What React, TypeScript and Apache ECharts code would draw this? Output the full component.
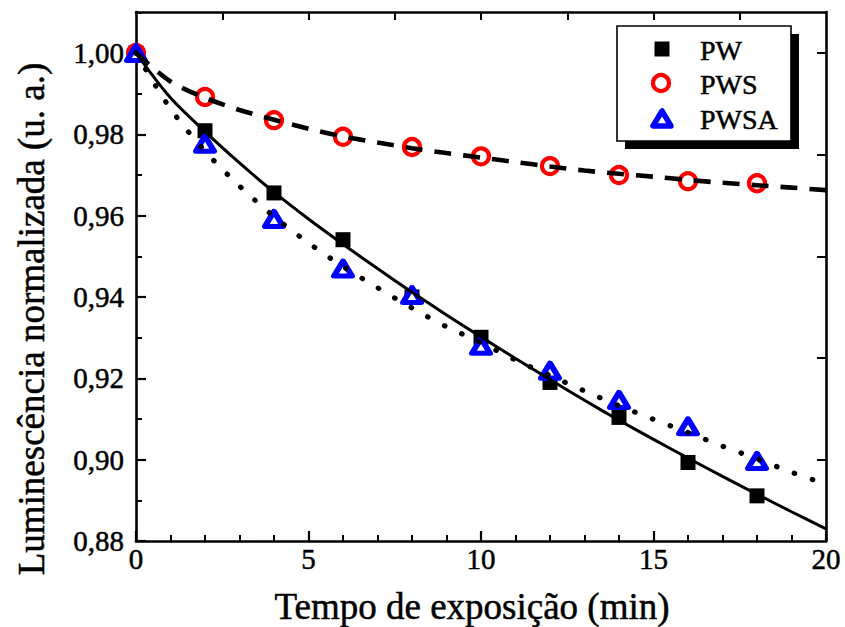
import React, { useEffect, useRef } from "react";
import * as echarts from "echarts";

// Measured samples (normalised luminescence vs. exposure time in minutes)
const timeMin = [0, 2, 4, 6, 8, 10, 12, 14, 16, 18];
const pw = [1.0, 0.9809, 0.9656, 0.9541, 0.94, 0.9301, 0.919, 0.9104, 0.8993, 0.8911];
const pws = [1.0, 0.9892, 0.9835, 0.9794, 0.9769, 0.9746, 0.9722, 0.97, 0.9685, 0.968];
const pwsa = [1.0, 0.9777, 0.9592, 0.947, 0.9405, 0.928, 0.9219, 0.9147, 0.9082, 0.8997];

// Fitted decay curves sampled every minute
const fitTime = [0, 1, 2, 3, 4, 5, 6, 7, 8, 9, 10, 11, 12, 13, 14, 15, 16, 17, 18, 19, 20];
const pwFit = [
  1.0, 0.989, 0.9807, 0.973, 0.9658, 0.9592, 0.953, 0.947, 0.9412, 0.9356, 0.9302,
  0.9249, 0.9197, 0.9146, 0.9097, 0.905, 0.9004, 0.8959, 0.8915, 0.8872, 0.883,
];
const pwsFit = [
  1.0, 0.993, 0.989, 0.986, 0.9836, 0.9814, 0.9795, 0.978, 0.9766, 0.9754, 0.9743,
  0.9732, 0.9721, 0.9711, 0.9703, 0.9696, 0.9688, 0.9681, 0.9675, 0.9669, 0.9663,
];
const pwsaFit = [
  1.0, 0.9863, 0.9759, 0.9673, 0.9598, 0.9533, 0.9475, 0.9423, 0.9373, 0.9327, 0.9288,
  0.9245, 0.9207, 0.9169, 0.9133, 0.9099, 0.9067, 0.9033, 0.9002, 0.8969, 0.894,
];

// Tick positions
const xMajorTicks = [0, 5, 10, 15, 20];
const xMinorTicks = [1, 2, 3, 4, 6, 7, 8, 9, 11, 12, 13, 14, 16, 17, 18, 19];
const xTopTicks = [2.5, 5, 7.5, 10, 12.5, 15, 17.5];
const yMajorTicks = [0.88, 0.9, 0.92, 0.94, 0.96, 0.98, 1.0];
const yMinorTicks = [0.89, 0.91, 0.93, 0.95, 0.97, 0.99, 1.01];
const yRightTicks = [0.9, 0.925, 0.95, 0.975, 1.0];

const seriesNames = ["PW", "PWS", "PWSA"];

const FONT = "'Liberation Serif', 'Times New Roman', serif";
const X_MIN = 0;
const X_MAX = 20;
const Y_MIN = 0.88;
const Y_MAX = 1.0101;

const pairs = (xs: number[], ys: number[]) => xs.map((x, i) => [x, ys[i]]);

// slightly heavier glyphs for the serif labels
const heavy = { textBorderColor: "#000", textBorderWidth: 0.5 };

export default function App() {
  const ref = useRef<HTMLDivElement>(null);

  useEffect(() => {
    document.body.style.margin = "0";
    if (!ref.current) return;
    const chart = echarts.init(ref.current, undefined, { renderer: "svg" });

    const axisLine = { show: true, onZero: false, lineStyle: { color: "#000", width: 2.6 } };
    const hidden = { show: false };

    const xBase = { type: "value" as const, min: X_MIN, max: X_MAX, splitLine: hidden };
    const yBase = { type: "value" as const, min: Y_MIN, max: Y_MAX, splitLine: hidden };

    const option: any = {
      animation: false,
      backgroundColor: "#fff",
      grid: { left: 136, right: 19, top: 12, bottom: 86 },
      xAxis: [
        {
          ...xBase,
          position: "bottom",
          axisLine,
          axisTick: {
            show: true,
            inside: true,
            length: 10,
            customValues: xMajorTicks,
            lineStyle: { color: "#000", width: 2.2 },
          },
          axisLabel: {
            show: true,
            customValues: xMajorTicks,
            margin: 3,
            color: "#000",
            fontFamily: FONT,
            fontSize: 29,
            ...heavy,
            formatter: (v: number) => String(v),
          },
        },
        {
          ...xBase,
          position: "bottom",
          axisLine: hidden,
          axisLabel: hidden,
          axisTick: {
            show: true,
            inside: true,
            length: 6,
            customValues: xMinorTicks,
            lineStyle: { color: "#000", width: 2 },
          },
        },
        {
          ...xBase,
          position: "top",
          axisLine,
          axisLabel: hidden,
          axisTick: {
            show: true,
            inside: true,
            length: 8,
            customValues: xTopTicks,
            lineStyle: { color: "#000", width: 2 },
          },
        },
      ],
      yAxis: [
        {
          ...yBase,
          position: "left",
          axisLine,
          axisTick: {
            show: true,
            inside: true,
            length: 10,
            customValues: yMajorTicks,
            lineStyle: { color: "#000", width: 2.2 },
          },
          axisLabel: {
            show: true,
            customValues: yMajorTicks,
            margin: 12,
            color: "#000",
            fontFamily: FONT,
            fontSize: 29,
            ...heavy,
            formatter: (v: number) => v.toFixed(2).replace(".", ","),
          },
        },
        {
          ...yBase,
          position: "left",
          axisLine: hidden,
          axisLabel: hidden,
          axisTick: {
            show: true,
            inside: true,
            length: 6,
            customValues: yMinorTicks,
            lineStyle: { color: "#000", width: 2 },
          },
        },
        {
          ...yBase,
          position: "right",
          axisLine,
          axisLabel: hidden,
          axisTick: {
            show: true,
            inside: true,
            length: 9,
            customValues: yRightTicks,
            lineStyle: { color: "#000", width: 2 },
          },
        },
      ],
      series: [
        {
          name: seriesNames[0],
          type: "scatter",
          data: pairs(timeMin, pw),
          symbol: "rect",
          symbolSize: 15,
          itemStyle: { color: "#000", opacity: 1 },
          z: 3,
        },
        {
          name: seriesNames[1],
          type: "scatter",
          data: pairs(timeMin, pws),
          symbol: "circle",
          symbolSize: 16,
          itemStyle: { color: "#fff", borderColor: "#ff0000", borderWidth: 4.2, opacity: 1 },
          z: 3,
        },
        {
          name: seriesNames[2],
          type: "scatter",
          data: pairs(timeMin, pwsa),
          symbol: "triangle",
          symbolSize: [18, 15],
          itemStyle: {
            color: "#fff",
            borderColor: "#0000ff",
            borderWidth: 5.5,
            borderJoin: "round",
            opacity: 1,
          },
          z: 3,
        },
        {
          name: "PW ajuste",
          type: "line",
          data: pairs(fitTime, pwFit),
          showSymbol: false,
          smooth: 0.3,
          lineStyle: { color: "#000", width: 3, type: "solid" },
          z: 4,
          silent: true,
        },
        {
          name: "PWS ajuste",
          type: "line",
          data: pairs(fitTime, pwsFit),
          showSymbol: false,
          smooth: 0.3,
          lineStyle: { color: "#000", width: 4.6, type: [17, 12], cap: "butt" },
          z: 4,
          silent: true,
        },
        {
          name: "PWSA ajuste",
          type: "line",
          data: pairs(fitTime, pwsaFit),
          showSymbol: false,
          smooth: 0.3,
          lineStyle: { color: "#000", width: 5.2, type: [0.5, 18.5], cap: "round" },
          z: 4,
          silent: true,
        },
      ],
      graphic: [
        {
          type: "text",
          x: 31,
          y: 319,
          rotation: Math.PI / 2,
          style: {
            text: "Luminescência normalizada (u. a.)",
            fontFamily: FONT,
            fontSize: 37,
            fill: "#000",
            stroke: "#000",
            lineWidth: 0.5,
            textAlign: "center",
            textVerticalAlign: "middle",
          },
        },
        {
          type: "text",
          x: 472,
          y: 606,
          style: {
            text: "Tempo de exposição (min)",
            fontFamily: FONT,
            fontSize: 37,
            fill: "#000",
            stroke: "#000",
            lineWidth: 0.5,
            textAlign: "center",
            textVerticalAlign: "middle",
          },
        },
        // legend frame with drop shadow
        {
          type: "rect",
          shape: { x: 625, y: 34, width: 174, height: 115 },
          style: { fill: "#000" },
          z: 10,
        },
        {
          type: "rect",
          shape: { x: 617, y: 26, width: 174, height: 115 },
          style: { fill: "#fff", stroke: "#000", lineWidth: 1.6 },
          z: 11,
        },
        {
          type: "rect",
          shape: { x: 654.5, y: 41.5, width: 15, height: 15 },
          style: { fill: "#000" },
          z: 12,
        },
        {
          type: "circle",
          shape: { cx: 661, cy: 83, r: 8 },
          style: { fill: "#fff", stroke: "#ff0000", lineWidth: 4.2 },
          z: 12,
        },
        {
          type: "polygon",
          shape: {
            points: [
              [662, 111],
              [653, 126],
              [671, 126],
            ],
          },
          style: { fill: "#fff", stroke: "#0000ff", lineWidth: 5.5, lineJoin: "round" },
          z: 12,
        },
        ...seriesNames.map((name, i) => ({
          type: "text",
          x: 700,
          y: 50 + i * 34.5,
          z: 12,
          style: {
            text: name,
            fontFamily: FONT,
            fontSize: 28,
            fill: "#000",
            stroke: "#000",
            lineWidth: 0.5,
            textAlign: "left",
            textVerticalAlign: "middle",
          },
        })),
      ],
    };

    chart.setOption(option);
    return () => chart.dispose();
  }, []);

  return <div ref={ref} style={{ width: 845, height: 627 }} />;
}
